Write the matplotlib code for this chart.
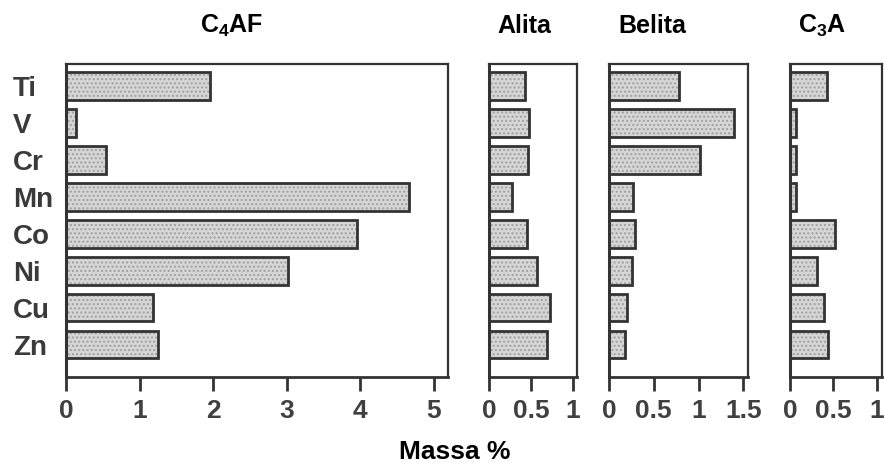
import matplotlib
matplotlib.use("Agg")
import matplotlib.pyplot as plt

plt.rcParams['font.family'] = ['Liberation Sans', 'DejaVu Sans']
plt.rcParams['mathtext.fontset'] = 'custom'
plt.rcParams['mathtext.bf'] = 'Liberation Sans:bold'
plt.rcParams['mathtext.rm'] = 'Liberation Sans:bold'

# elementos (de cima para baixo)
elementos = ['Ti', 'V', 'Cr', 'Mn', 'Co', 'Ni', 'Cu', 'Zn']

# massa % em cada fase
c4af = [1.95, 0.13, 0.55, 4.66, 3.96, 3.02, 1.18, 1.25]
alita = [0.43, 0.48, 0.47, 0.27, 0.45, 0.57, 0.73, 0.69]
belita = [0.78, 1.40, 1.02, 0.27, 0.29, 0.26, 0.20, 0.18]
c3a = [0.42, 0.07, 0.07, 0.07, 0.52, 0.31, 0.39, 0.44]

titulos = [r'$\mathbf{C_4AF}$', 'Alita', 'Belita', r'$\mathbf{C_3A}$']
ticks = [[0, 1, 2, 3, 4, 5], [0, 0.5, 1], [0, 0.5, 1, 1.5], [0, 0.5, 1]]
xmax = [5.19, 1.05, 1.55, 1.06]

# posicao dos paineis (fracao da figura)
paineis = [
    [0.0746, 0.186, 0.4316, 0.676],
    [0.5525, 0.186, 0.0994, 0.676],
    [0.6880, 0.186, 0.1570, 0.676],
    [0.8927, 0.186, 0.1040, 0.676],
]
titulo_x = [232 / 885, 524 / 885, 652 / 885, 822 / 885]

fig = plt.figure(figsize=(8.85, 4.63), dpi=100)
dados = [c4af, alita, belita, c3a]
pos = list(range(len(elementos)))

for i, valores in enumerate(dados):
    ax = fig.add_axes(paineis[i])
    ax.barh(pos, valores, height=0.74, color='#d6d6d6', edgecolor='#a0a0a0',
            hatch='....', linewidth=0)
    ax.barh(pos, valores, height=0.74, fill=False, edgecolor='#333333',
            linewidth=2)
    ax.set_ylim(7.87, -0.6)
    ax.set_xlim(0, xmax[i])
    ax.set_xticks(ticks[i])
    ax.set_xticklabels([f'{t:g}' for t in ticks[i]], fontsize=19,
                       fontweight='bold', color='#404040')
    ax.tick_params(axis='x', direction='out', length=10, width=2,
                   color='#333333', pad=6)
    if i == 0:
        ax.set_yticks(pos)
        ax.set_yticklabels(elementos, fontsize=20, fontweight='bold',
                           color='#3a3a3a', ha='left')
        ax.tick_params(axis='y', length=0, pad=38)
    else:
        ax.set_yticks([])
    for s in ax.spines.values():
        s.set_color('#333333')
        s.set_linewidth(1.6)
    ax.spines['bottom'].set_linewidth(2)
    ax.spines['left'].set_linewidth(2.2)
    fig.text(titulo_x[i], 0.944, titulos[i], ha='center', va='center',
             fontsize=18, fontweight='bold')

fig.text(455 / 885, 0.024, 'Massa %', ha='center', va='center',
         fontsize=19, fontweight='bold')

fig.savefig('out.png', dpi=100)
